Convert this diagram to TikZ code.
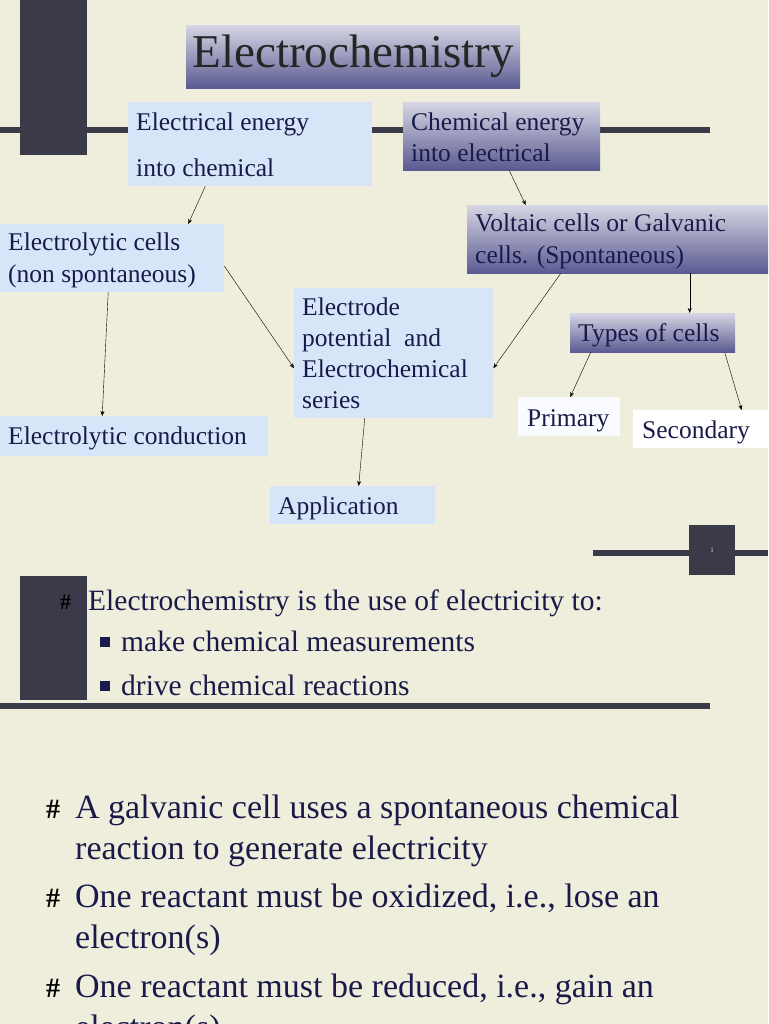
\documentclass[tikz,border=0pt]{standalone}
\usepackage{fontspec}
\setmainfont{Liberation Serif}
\usetikzlibrary{arrows.meta}
\begin{document}
\definecolor{bg}{HTML}{EFEEDC}
\definecolor{dark}{HTML}{3A3A48}
\definecolor{navy}{HTML}{1A1A4A}
\definecolor{lblue}{HTML}{D6E6F8}
\definecolor{gdk}{HTML}{5A5A92}
\begin{tikzpicture}[x=1pt,y=-1pt,
  lb/.style={fill=lblue,draw=none,anchor=north west,inner sep=0pt},
  gr/.style={top color=gdk!25!white,bottom color=gdk,draw=none,anchor=north west,inner sep=0pt},
  wb/.style={fill=white,draw=none,anchor=north west,inner sep=0pt},
  txt/.style={text=navy,font=\fontsize{25.5}{31}\selectfont,align=left,inner sep=0pt,anchor=base west},
  big/.style={text=navy,font=\fontsize{34}{41}\selectfont,inner sep=0pt,anchor=base west},
  hs/.style={text=black,font=\fontsize{28}{30}\selectfont\bfseries,inner sep=0pt,anchor=base west},
  arr/.style={-{Stealth[length=5pt,width=4pt]},thin,black}]
\useasboundingbox (0,0) rectangle (768,1024);
\fill[bg] (0,0) rectangle (768,1024);
% slide 1 decorations
\fill[dark] (20,0) rectangle (87,155);
\fill[dark] (0,127) rectangle (710,133);
\node[gr,minimum width=334,minimum height=63] (title) at (186,25) {};
\node[text=black!85,font=\fontsize{47}{50}\selectfont] at (title.center) {Electrochemistry};
\node[lb,minimum width=244,minimum height=84] (ee) at (128,102) {};
\node[txt] at (136,131) {Electrical energy};
\node[txt] at (136,177) {into chemical};
\node[gr,minimum width=197,minimum height=68] (ce) at (403,102) {};
\node[txt] at (411,131) {Chemical energy};
\node[txt] at (411,162) {into electrical};
\node[lb,minimum width=224,minimum height=68] (ec) at (0,224) {};
\node[txt] at (8,251) {Electrolytic cells};
\node[txt] at (8,282) {(non spontaneous)};
\node[gr,minimum width=301,minimum height=68] (vc) at (467,205) {};
\node[txt] at (475,232) {Voltaic cells or Galvanic};
\node[txt] at (475,263) {cells. (Spontaneous)};
\node[lb,minimum width=199,minimum height=130] (ep) at (294,288) {};
\node[txt] at (302,315) {Electrode};
\node[txt] at (302,346) {potential~ and};
\node[txt] at (302,377) {Electrochemical};
\node[txt] at (302,408) {series};
\node[gr,minimum width=165,minimum height=39] (tc) at (570,313) {};
\node[txt] at (578,341) {Types of cells};
\node[wb,fill=white!85!lblue,minimum width=102,minimum height=39] (pr) at (518,397) {};
\node[txt] at (527,426) {Primary};
\node[wb,minimum width=135,minimum height=38] (se) at (633,410) {};
\node[txt] at (642,438) {Secondary};
\node[lb,minimum width=268,minimum height=40] (cond) at (0,416) {};
\node[txt] at (8,444) {Electrolytic conduction};
\node[lb,minimum width=165,minimum height=38] (app) at (270,486) {};
\node[txt] at (278,514) {Application};
% arrows
\draw[arr] ([xshift=-45]ee.south) -- ([xshift=76]ec.north);
\draw[arr] ([xshift=7.5]ce.south) -- ([xshift=-92]vc.north);
\draw[arr] ([xshift=-4]ec.south) -- ([xshift=-32]cond.north);
\draw[arr] ([yshift=-8]ec.east) -- ([yshift=-15]ep.west);
\draw[arr] ([xshift=-57]vc.south) -- ([yshift=-15]ep.east);
\draw[arr] ([xshift=72]vc.south) -- ([xshift=37]tc.north);
\draw[arr] ([xshift=-62]tc.south) -- ([xshift=1]pr.north);
\draw[arr] ([xshift=72]tc.south) -- ([xshift=41]se.north);
\draw[arr] ([xshift=-29]ep.south) -- ([xshift=6]app.north);
% page marker
\fill[dark] (593,550) rectangle (768,556);
\fill[dark] (689,525) rectangle (735,575);
\node[text=white!80!dark,font=\fontsize{7}{8}\selectfont] at (712,550) {1};
% slide 2
\fill[dark] (20,576) rectangle (87,700);
\fill[dark] (0,703) rectangle (710,709);
\node[hs,font=\fontsize{22}{24}\selectfont\bfseries] at (60,609) {\#};
\node[text=navy,font=\fontsize{29.5}{30}\selectfont,inner sep=0pt,anchor=base west] at (88,610) {Electrochemistry is the use of electricity to:};
\fill[navy] (100,637) rectangle (110,647);
\node[text=navy,font=\fontsize{29.5}{30}\selectfont,inner sep=0pt,anchor=base west] at (121,651) {make chemical measurements};
\fill[navy] (100,681) rectangle (110,691);
\node[text=navy,font=\fontsize{29.5}{30}\selectfont,inner sep=0pt,anchor=base west] at (121,695) {drive chemical reactions};
% slide 3
\foreach \y in {818,907,997}{\node[hs] at (46,\y) {\#};}
\node[big] at (75,818) {A galvanic cell uses a spontaneous chemical};
\node[big] at (75,859) {reaction to generate electricity};
\node[big] at (75,907) {One reactant must be oxidized, i.e., lose an};
\node[big] at (75,948) {electron(s)};
\node[big] at (75,997) {One reactant must be reduced, i.e., gain an};
\node[big] at (75,1038) {electron(s)};
\end{tikzpicture}
\end{document}
